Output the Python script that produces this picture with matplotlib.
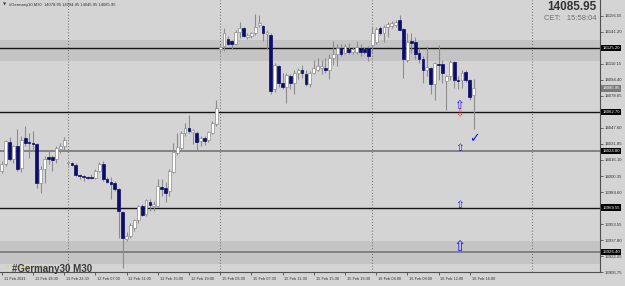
import matplotlib
matplotlib.use('Agg')
import matplotlib.pyplot as plt
import matplotlib.transforms as mtransforms
from matplotlib.patches import Rectangle

# M30 candles, 11 Feb 14:30 .. 16 Feb 16:30
opens = [14005, 14012, 14034, 14017, 14030, 14008, 14037, 14034, 14033, 14032,
         13994, 14007, 14019, 14019, 14017, 14027, 14030, 14013, 14013, 14011,
         14001, 14000, 13999, 13999, 13998, 14005, 14012, 13997, 13995, 13994,
         13988, 13965, 13939, 13942, 13950, 13957, 13971, 13963, 13975, 13971,
         13971, 13990, 13989, 13986, 14004, 14023, 14028, 14042, 14047, 14043,
         14042, 14035, 14037, 14036, 14042, 14051,
         14124, 14127, 14134, 14132, 14129, 14141, 14145, 14136, 14137, 14140,
         14148, 14147, 14139, 14138, 14085, 14108, 14091, 14087, 14098, 14091,
         14101, 14104, 14100, 14090, 14101, 14104, 14106, 14106, 14104, 14116,
         14119, 14125, 14120, 14124, 14121, 14121, 14125, 14124, 14125,
         14128, 14131, 14145, 14140, 14146, 14147, 14148, 14153, 14144, 14114,
         14132, 14131, 14120, 14115, 14104, 14106, 14090, 14110, 14110, 14093,
         14098, 14112, 14094, 14094, 14102, 14094, 14078.95]
highs = [14015, 14036, 14038, 14031, 14046, 14039, 14049, 14042, 14044, 14033,
         14010, 14020, 14026, 14021, 14030, 14033, 14038, 14015, 14014, 14013,
         14002, 14001, 14000, 14002, 14007, 14014, 14015, 13999, 13999, 13996,
         13989, 13966, 13946, 13955, 13958, 13972, 13973, 13978, 13978, 13976,
         13997, 13997, 13995, 14007, 14033, 14042, 14044, 14052, 14060, 14046,
         14044, 14039, 14039, 14044, 14054, 14075,
         14128, 14145, 14137, 14133, 14143, 14151, 14146, 14140, 14141, 14158,
         14157, 14148, 14143, 14140, 14111, 14109, 14101, 14101, 14100, 14104,
         14106, 14109, 14104, 14103, 14114, 14116, 14114, 14116, 14119, 14132,
         14129, 14129, 14129, 14130, 14126, 14132, 14129, 14126, 14127,
         14146, 14146, 14147, 14148, 14151, 14152, 14153, 14157.5, 14145, 14140,
         14140, 14136, 14125, 14117, 14127, 14107, 14112, 14128, 14114, 14099,
         14114, 14113, 14098, 14104, 14104, 14095, 14094.95]
lows = [14003, 14010, 14015, 14013, 14005, 14004, 14030, 14018, 14026, 13989,
        13984, 13994, 14012, 14005, 14013, 14023, 14026, 14011, 14010, 14000,
        13997, 13996, 13997, 13997, 13997, 14004, 13996, 13994, 13978, 13986,
        13940, 13911, 13937, 13940, 13947, 13955, 13961, 13961, 13966, 13966,
        13970, 13981, 13975, 13981, 14003, 14021, 14025, 14039, 14042, 14032,
        14025, 14030, 14031, 14034, 14041, 14049,
        14121, 14122, 14128, 14124, 14128, 14135, 14136, 14134, 14135, 14138,
        14146, 14132, 14124, 14080, 14082, 14087, 14085, 14072, 14085, 14080,
        14095, 14096, 14088, 14087, 14100, 14103, 14100, 14101, 14095, 14109,
        14108, 14117, 14119, 14119, 14119, 14119, 14117, 14119, 14113,
        14121, 14129, 14138, 14131, 14136, 14145, 14146, 14143, 14096, 14112,
        14120, 14115, 14111, 14091, 14098, 14080, 14075, 14094, 14091, 14065,
        14094, 14086, 14085, 14086, 14092, 14075, 14045.95]
closes = [14012, 14035, 14017, 14030, 14007, 14036, 14033, 14033, 14032, 13994,
          14007, 14017, 14017, 14016, 14028, 14030, 14036, 14013, 14011, 14001,
          14000, 13999, 13998, 13998, 14005, 14012, 13997, 13995, 13993, 13988,
          13966, 13940, 13942, 13953, 13957, 13971, 13962, 13977, 13972, 13973,
          13991, 13988, 13984, 14005, 14024, 14029, 14042, 14047, 14044, 14045,
          14034, 14037, 14035, 14043, 14052, 14067,
          14126, 14140, 14129, 14129, 14141, 14145, 14137, 14138, 14140, 14146,
          14150, 14140, 14141, 14083, 14109, 14091, 14087, 14099, 14091, 14101,
          14104, 14101, 14090, 14101, 14106, 14108, 14108, 14104, 14116, 14119,
          14125, 14119, 14127, 14121, 14124, 14126, 14121, 14121, 14117,
          14140, 14144, 14140, 14146, 14149, 14150, 14151, 14143, 14115, 14131,
          14130, 14119, 14115, 14104, 14107, 14090, 14111, 14109, 14101, 14098,
          14112, 14094, 14093, 14101, 14094, 14077, 14085.95]

level_prices = [14125.20, 14062.70, 14024.80, 13969.55, 13926.40]
level_colors = ['#151515', '#151515', '#7c7c7c', '#151515', '#7c7c7c']
zones = [(14112.5, 14133.5), (13914.5, 13936.9)]
current_price = 14085.95

price_ticks = [14156.55, 14141.20, 14110.15, 14094.40, 14078.65, 14047.60,
               14031.85, 14016.10, 14000.35, 13984.60, 13953.55, 13937.80,
               13922.05, 13906.75]
time_ticks = [0, 8, 16, 24, 32, 40, 48, 56, 64, 72, 80, 88, 96, 104, 112, 120]
time_labels = ['11 Feb 2021', '11 Feb 18:30', '11 Feb 22:30', '12 Feb 07:00',
               '12 Feb 11:00', '12 Feb 15:00', '12 Feb 19:00', '15 Feb 03:30',
               '15 Feb 07:30', '15 Feb 11:30', '15 Feb 15:30', '15 Feb 19:30',
               '16 Feb 04:00', '16 Feb 08:00', '16 Feb 12:00', '16 Feb 16:00']
day_starts = [17, 56, 95, 136]

# signal marks: (bar, price, glyph, colour, size)
signals = [(117.3, 14069, '⇧', '#1010ff', 8.5),
           (117.3, 14061.5, '⇩', '#ff3030', 7),
           (117.3, 14028, '⇧', '#1010ff', 7.5),
           (117.3, 13972, '⇧', '#1010ff', 7.5),
           (117.3, 13932, '⇧', '#1010ff', 10.5),
           (121.2, 14037, '✓', '#1010ff', 9)]

bg = '#d4d4d4'
fig = plt.figure(figsize=(6.25, 2.86), dpi=100)
fig.patch.set_facecolor(bg)
ax = fig.add_axes([0, 14 / 286, 600 / 625, 272 / 286])
ax.set_facecolor(bg)
ax.set_xlim(-0.44, 153.4)
ax.set_ylim(13907.7, 14172.1)

for lo, hi in zones:
    ax.axhspan(lo, hi, color='#c4c4c4', lw=0, zorder=0)
for p, c in zip(level_prices, level_colors):
    ax.axhline(p, color=c, lw=1.3 if c != '#151515' else 1.0, zorder=1)
for d in day_starts:
    ax.axvline(d, color='#6a6a6a', lw=0.7, ls=(0, (1, 2)), zorder=1)

# candles
for i in range(len(opens)):
    o, h, l, c = opens[i], highs[i], lows[i], closes[i]
    ax.vlines(i, l, h, color='#8c8c8c', lw=0.8, zorder=2)
    bottom = min(o, c)
    height = max(abs(c - o), 0.7)
    if c >= o:
        rect = Rectangle((i - 0.36, bottom), 0.72, height, facecolor='white',
                         edgecolor='#8c8c8c', lw=0.5, zorder=3)
    else:
        rect = Rectangle((i - 0.36, bottom), 0.72, height, facecolor='#0c0c6e',
                         edgecolor='#0c0c6e', lw=0.5, zorder=3)
    ax.add_patch(rect)

for x, p, g, col, s in signals:
    ax.text(x, p, g, color=col, fontsize=s, ha='center', va='center',
            family='DejaVu Sans', zorder=5)

# axes look
for side in ['top', 'left']:
    ax.spines[side].set_visible(False)
ax.spines['right'].set_color('#505050')
ax.spines['bottom'].set_color('#505050')
ax.spines['right'].set_linewidth(0.8)
ax.spines['bottom'].set_linewidth(0.8)

ax.yaxis.tick_right()
ax.set_yticks(price_ticks)
ax.set_yticklabels(['%.2f' % v for v in price_ticks])
ax.tick_params(axis='y', length=2, width=0.5, pad=1.2, labelsize=3.1,
               colors='#303030')
for lab in ax.get_yticklabels():
    lab.set_family('Liberation Sans')

ax.set_xticks(time_ticks)
ax.set_xticklabels([])
ax.tick_params(axis='x', length=2.5, width=0.5, colors='#303030')
xt = mtransforms.blended_transform_factory(ax.transData, ax.transAxes)
for t, s in zip(time_ticks, time_labels):
    ax.text(t + 0.5, -0.018, s, transform=xt, ha='left', va='top', fontsize=2.8,
            color='#303030', family='Liberation Sans')

# price boxes on the axis
yt = mtransforms.blended_transform_factory(ax.transAxes, ax.transData)
for p in level_prices:
    ax.text(1.004, p, '%.2f' % p, transform=yt, ha='left', va='center',
            fontsize=3.1, color='white', family='Liberation Sans',
            bbox=dict(boxstyle='square,pad=0.3', fc='black', ec='none'),
            clip_on=False, zorder=6)
ax.text(1.004, current_price, '%.2f' % current_price, transform=yt, ha='left',
        va='center', fontsize=3.1, color='white', family='Liberation Sans',
        bbox=dict(boxstyle='square,pad=0.3', fc='#7a7a7a', ec='none'),
        clip_on=False, zorder=6)

# texts
fig.text(3 / 625, 1 - 5 / 286, '▼', fontsize=3, color='#404040',
         va='center', family='DejaVu Sans')
fig.text(9 / 625, 1 - 5 / 286,
         '#Germany30,M30  14078.95 14094.95 14045.95 14085.95',
         fontsize=3, color='#303030', va='center', family='Liberation Sans')
fig.text(597 / 625, 1 - 7 / 286, '14085.95', fontsize=8.5, weight='bold',
         color='#333333', ha='right', va='center', family='Liberation Sans')
fig.text(597 / 625, 1 - 18 / 286, 'CET:   15:58:04', fontsize=5.5,
         color='#707070', ha='right', va='center', family='Liberation Sans')
fig.text(6 / 625, 1 - 267 / 286, '© #Germany30 M30', fontsize=3,
         color='#e6d200', va='center', family='Liberation Sans')
fig.text(12 / 625, 1 - 269 / 286, '#Germany30 M30', fontsize=7,
         weight='bold', color='#3a3a3a', va='center', family='Liberation Sans')

fig.savefig('out.png', dpi=100, facecolor=bg)
